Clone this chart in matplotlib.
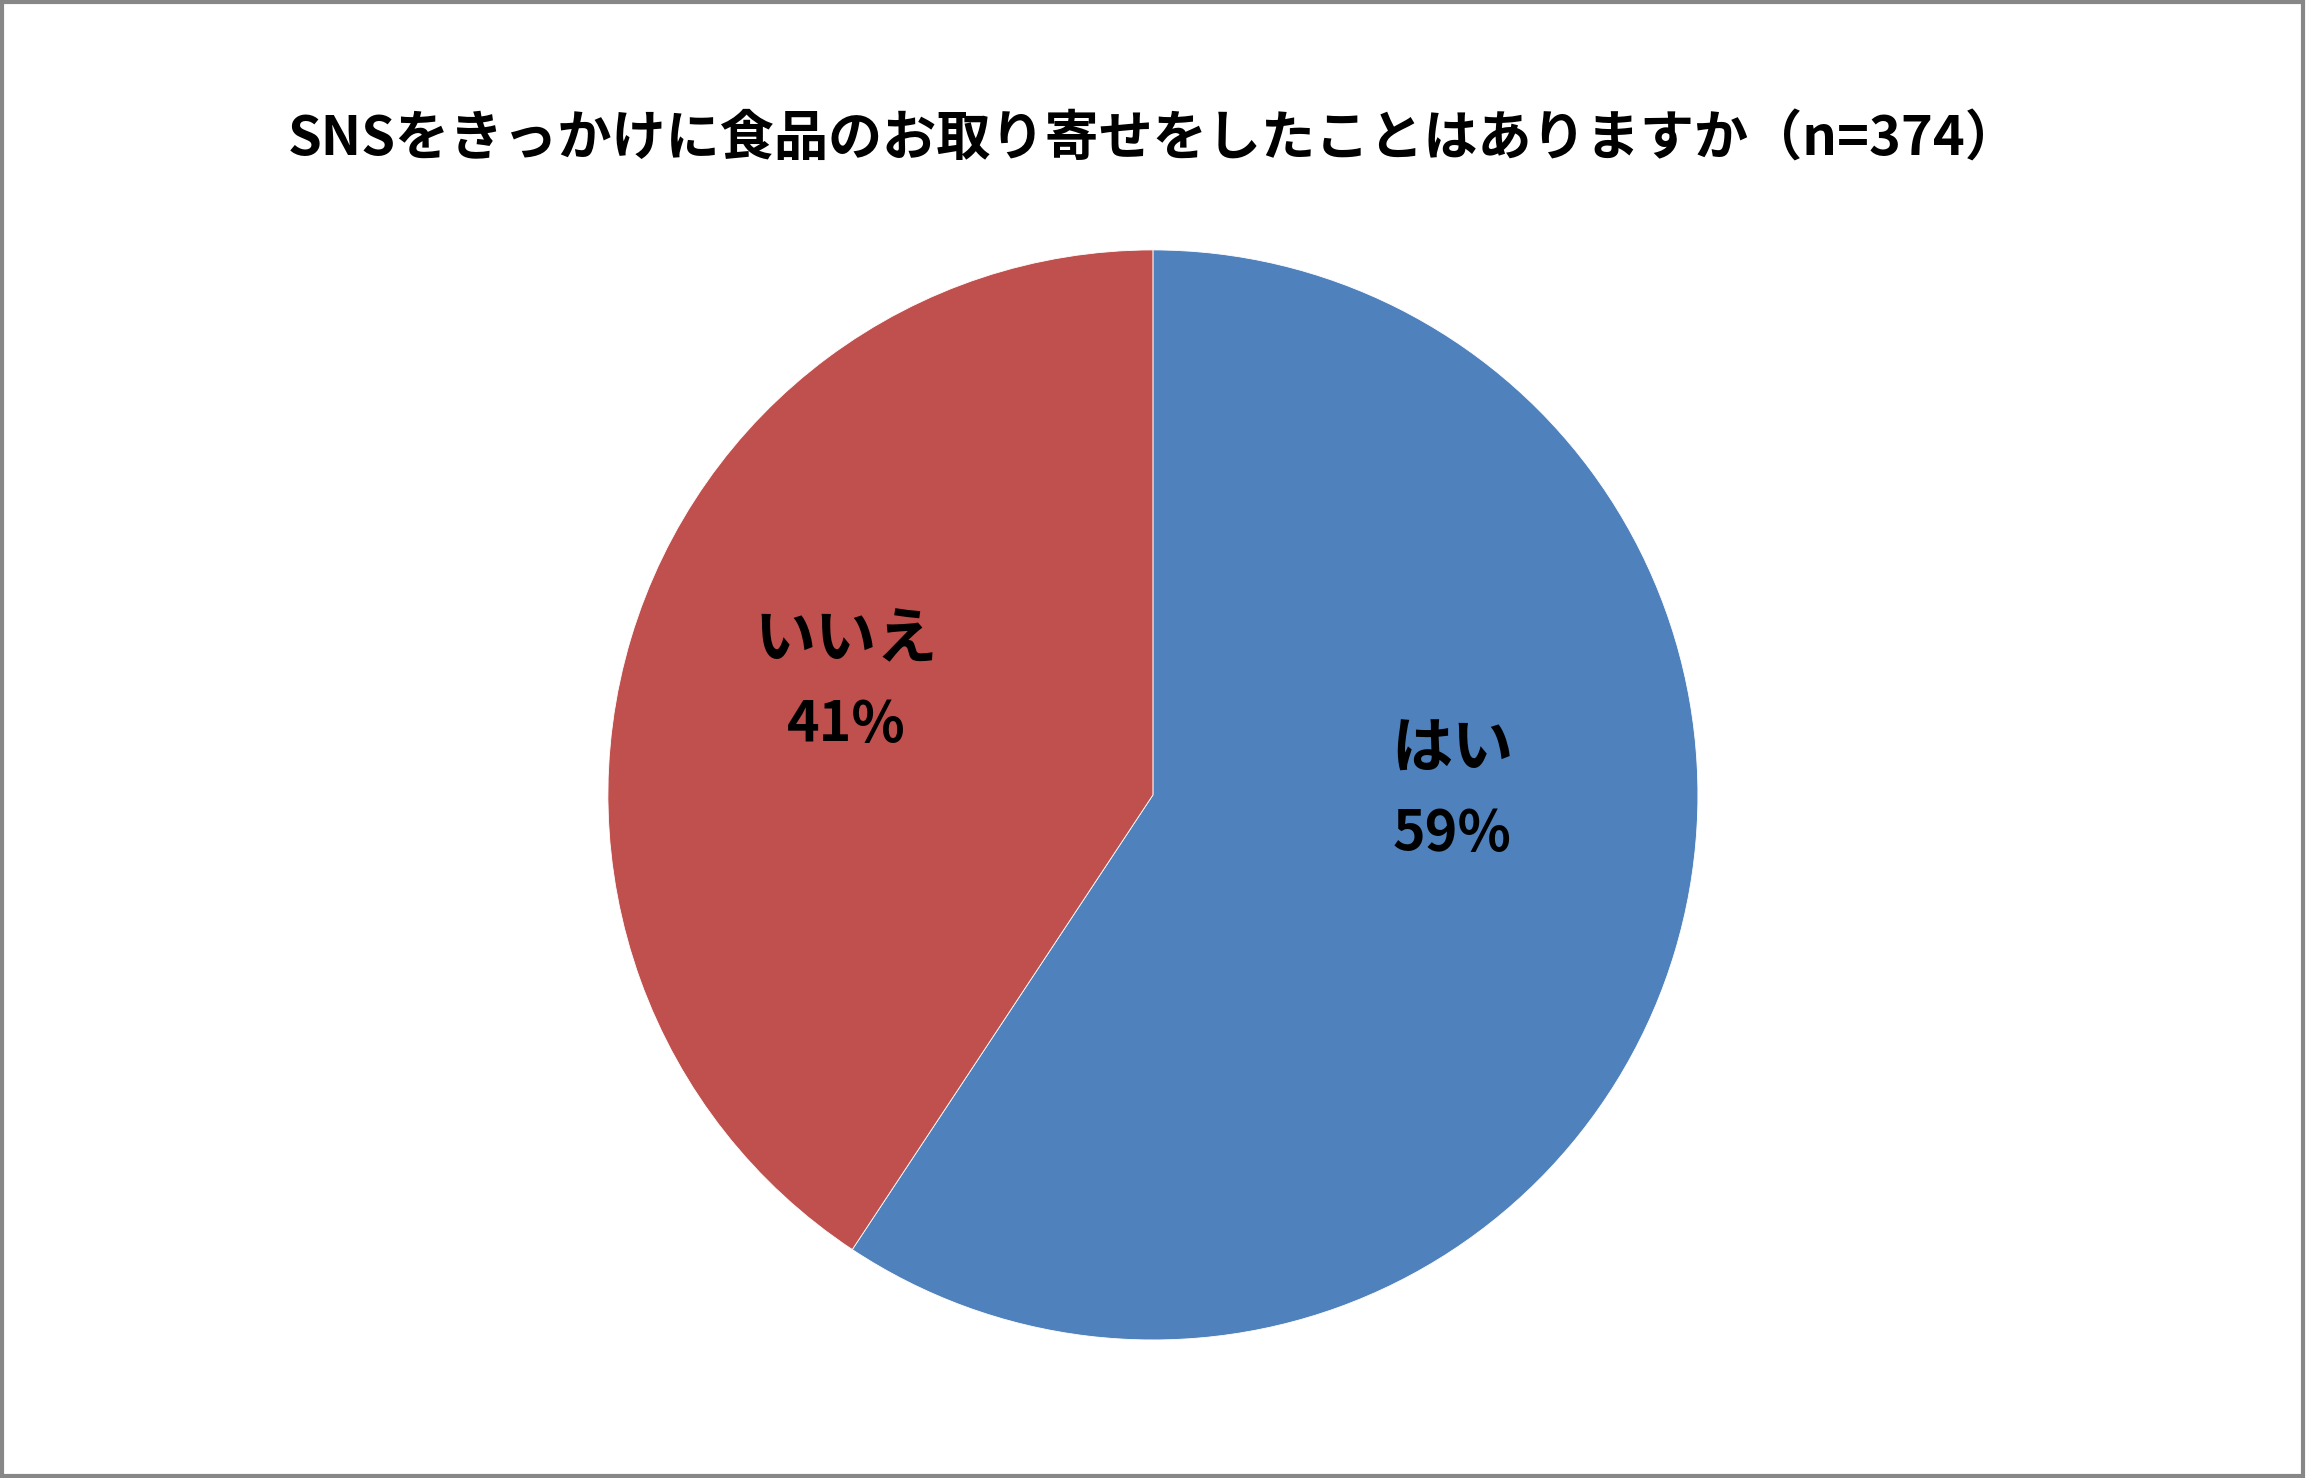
import matplotlib.pyplot as plt
from matplotlib.patches import Rectangle

plt.rcParams['font.family'] = ['Noto Sans CJK JP', 'DejaVu Sans']

title = "SNSをきっかけに食品のお取り寄せをしたことはありますか（n=374）"
labels = ["はい", "いいえ"]
shares = [59.3, 40.7]
colors = ["#4F81BD", "#C0504D"]

fig = plt.figure(figsize=(23.07, 14.78), dpi=100)
ax = fig.add_axes([0.2635, 0.0934, 0.4725, 0.7375])

wedges, _ = ax.pie(shares, colors=colors, startangle=90, counterclock=False,
                   wedgeprops=dict(edgecolor="white", linewidth=0.6))
ax.set_xlim(-1, 1)
ax.set_ylim(-1, 1)
ax.set_aspect("equal")
ax.axis("off")

# label spots (Excel best-fit placement): name line y, percent line y
label_pos = [(0.549, 0.083, -0.072), (-0.563, 0.284, 0.128)]
for lab, val, (x, y1, y2) in zip(labels, shares, label_pos):
    ax.text(x, y1, lab, ha="center", va="center",
            fontsize=44, fontweight="bold", color="black")
    ax.text(x, y2, f"{round(val)}%", ha="center", va="center",
            fontsize=40, fontweight="bold", color="black")

fig.text(0.5, 1 - 140 / 1478, title, ha="center", va="center",
         fontsize=39, fontweight="bold")

# chart area border
fig.patches.append(Rectangle((0.0008, 0.0012), 0.9975, 0.9975, transform=fig.transFigure,
                             fill=False, edgecolor="#878787", linewidth=3))

fig.savefig("out.png", dpi=100, facecolor="white")
